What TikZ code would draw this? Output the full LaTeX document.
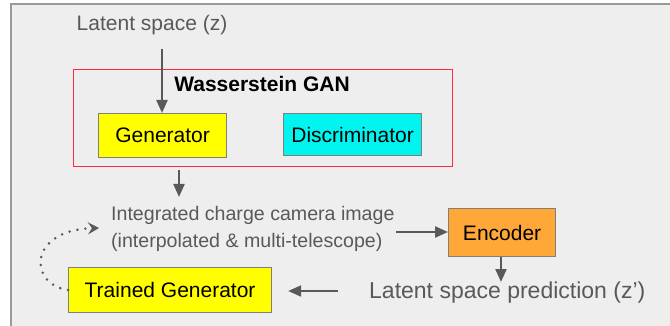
\documentclass[tikz,border=0pt]{standalone}
\usepackage{fontspec}
\setmainfont{Liberation Sans}
\usetikzlibrary{arrows.meta}
\definecolor{panel}{HTML}{EEEEEE}
\definecolor{panelrule}{HTML}{9A9A9A}
\definecolor{ink}{HTML}{595959}
\definecolor{boxrule}{HTML}{7F7F7F}
\definecolor{ganred}{HTML}{FF2A3C}
\definecolor{genyellow}{HTML}{FFFF00}
\definecolor{disccyan}{HTML}{00F5F0}
\definecolor{encorange}{HTML}{FFA838}
\tikzset{
  x=1pt, y=-1pt,
  block/.style={draw=boxrule, line width=1.2pt, inner sep=0pt, anchor=north west,
    font=\fontsize{21}{24}\selectfont, text=black},
  label/.style={text=ink, inner sep=0pt},
  flow/.style={draw=ink, line width=2.2pt, -{Triangle[length=13pt,width=11pt]}},
  loopback/.style={draw=ink, line width=2.8pt, line cap=round, dash pattern=on 0pt off 8pt,
    -{Stealth[length=11pt,width=12pt,inset=4pt,line cap=butt,sep=0pt]}},
}
\begin{document}
\begin{tikzpicture}
  \useasboundingbox (0,0) rectangle (670,326);
  % slide panel
  \fill[white] (0,0) rectangle (670,326);
  \draw[panelrule, fill=panel, line width=2pt] (11,4) rectangle (680,340);

  % Wasserstein GAN group
  \node[draw=ganred, line width=1.3pt, minimum width=379pt, minimum height=97pt,
        anchor=north west, inner sep=0pt] (gan) at (73,69) {};
  \node[inner sep=0pt, font=\bfseries\fontsize{21}{24}\selectfont] (ganlbl) at (262,83.5) {Wasserstein GAN};

  \node[block, fill=genyellow, minimum width=128pt, minimum height=44pt] (gen) at (98,113) {Generator};
  \node[block, fill=disccyan, minimum width=138pt, minimum height=42pt] (disc) at (283,113) {Discriminator};

  % latent input
  \node[label, font=\fontsize{21}{24}\selectfont] (z) at (152,25) {Latent space (z)};
  \coordinate (zin) at (162,49);
  \draw[flow] (zin) -- (gen.north -| zin);

  % generated images
  \node[label, font=\fontsize{19.6}{27}\selectfont, align=left, anchor=west] (img) at (111,228.5)
    {Integrated charge camera image\\(interpolated \& multi-telescope)};
  \coordinate (ganout) at (179,170);
  \coordinate (imgtop) at (179,197);
  \draw[flow] (ganout) -- (imgtop);

  % encoder
  \node[block, fill=encorange, minimum width=107pt, minimum height=48pt] (enc) at (448,208) {Encoder};
  \coordinate (imgout) at (396,232);
  \draw[flow] (imgout) -- (imgout -| enc.west);

  \node[label, font=\fontsize{23}{26}\selectfont, anchor=west] (zp) at (369,293) {Latent space prediction (z’)};
  \coordinate (zptop) at (501,282);
  \draw[flow] (enc.south -| zptop) -- (zptop);

  % trained generator
  \node[block, fill=genyellow, minimum width=203pt, minimum height=45pt] (tgen) at (68,267) {Trained Generator};
  \coordinate (zpout) at (338,291);
  \draw[flow, shorten >=16pt] (zpout) -- (zpout -| tgen.east);
  \coordinate (loopend) at (99,228);
  \draw[loopback] (tgen.west) .. controls (28,284) and (28,230) .. (loopend);
\end{tikzpicture}
\end{document}
